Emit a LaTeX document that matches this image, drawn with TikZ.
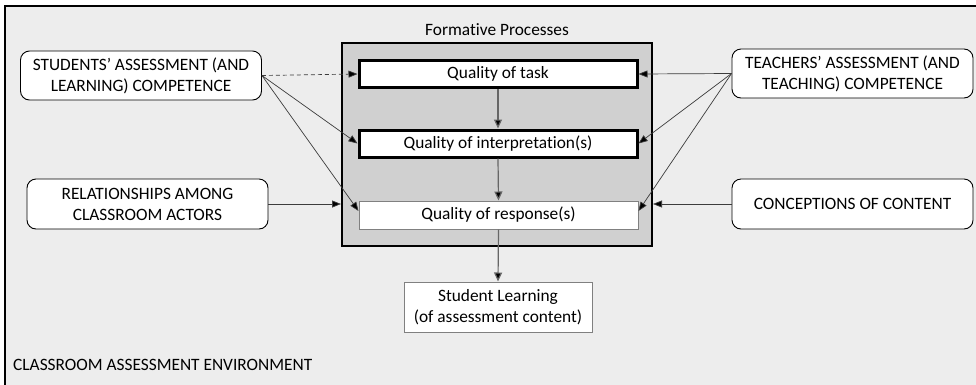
\documentclass[tikz,border=0pt]{standalone}
\usepackage{fontspec}
\setmainfont[Ligatures={NoCommon}]{Carlito}
\usetikzlibrary{arrows.meta,calc}
\definecolor{envbg}{RGB}{237,237,237}
\definecolor{fpbg}{RGB}{208,208,208}
\definecolor{lnc}{RGB}{60,60,60}
\begin{document}
\begin{tikzpicture}[x=1bp,y=-1bp,
  font=\fontsize{17.4}{21}\selectfont,
  rbox/.style={draw=black, line width=0.9bp, rounded corners=9bp, fill=white, align=center, inner sep=0pt, minimum width=241bp, minimum height=49bp},
  qthick/.style={draw=black, line width=3bp, fill=white, inner sep=0pt, minimum width=278bp, minimum height=27bp},
  qthin/.style={draw=gray, line width=1bp, fill=white, inner sep=0pt, minimum width=279bp, minimum height=28bp},
  conn/.style={draw=lnc, line width=0.7bp, -{Triangle[length=9bp,width=7bp,fill=black]}},
  vconn/.style={draw=gray!80!black, line width=1.2bp, -{Triangle[length=9bp,width=8bp,fill=black]}}
]
\useasboundingbox (0,0) rectangle (976,384);
\clip (0,0) rectangle (976,384);
\draw[fill=envbg, line width=1.6bp] (5,6) rectangle (990,400);

\node[draw=black, line width=2bp, fill=fpbg, minimum width=310bp, minimum height=203bp, inner sep=0pt] (fp) at (497,144.5) {};
\node (fplabel) at (497,30) {Formative Processes};

\node[qthick] (task) at (498,74) {Quality of task};
\node[qthick] (interp) at (498,143.5) {Quality of interpretation(s)};
\node[qthin] (resp) at (498.5,215) {Quality of response(s)};
\node[draw=gray, line width=1bp, fill=white, minimum width=188bp, minimum height=50bp, inner sep=0pt, align=center] (learn) at (498,307) {Student Learning\\(of assessment content)};

\node[rbox] (stud) at (141,75.5) {STUDENTS’ ASSESSMENT (AND\\LEARNING) COMPETENCE};
\node[rbox, minimum height=50bp] (rel) at (147.5,204) {RELATIONSHIPS AMONG\\CLASSROOM ACTORS};
\node[rbox] (teach) at (852.5,73.5) {TEACHERS’ ASSESSMENT (AND\\TEACHING) COMPETENCE};
\node[rbox, minimum height=50bp] (conc) at (852.5,204) {CONCEPTIONS OF CONTENT};

\node[anchor=west, inner sep=0pt] (env) at (13,365) {CLASSROOM ASSESSMENT ENVIRONMENT};

\coordinate (respL) at ($(resp.west)+(0,-4)$);
\coordinate (respR) at ($(resp.east)+(0,-4)$);

\draw[conn, dash pattern=on 4bp off 3bp] (stud.east) -- (task.west);
\draw[conn] (stud.east) -- (interp.west);
\draw[conn] (stud.east) -- (respL);
\draw[conn] (rel.east) -- (rel.east -| fp.west);

\draw[conn] (teach.west) -- (task.east);
\draw[conn] (teach.west) -- (interp.east);
\draw[conn] (teach.west) -- (respR);
\draw[conn] (conc.west) -- (conc.west -| fp.east);

\draw[vconn] (task.south) -- (interp.north);
\draw[vconn] (interp.south) -- (resp.north);
\draw[vconn] (resp.south) -- (learn.north);
\end{tikzpicture}
\end{document}
